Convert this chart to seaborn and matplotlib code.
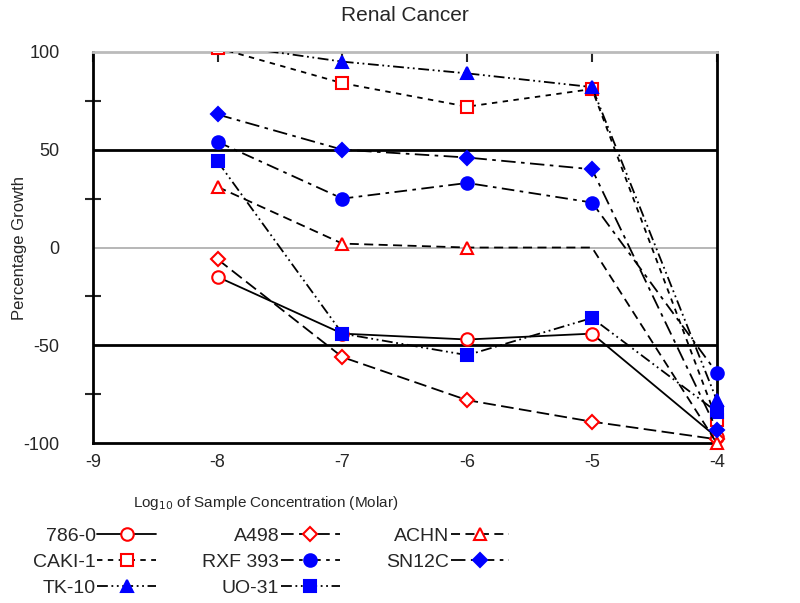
import pandas as pd
import matplotlib
matplotlib.use("Agg")
import matplotlib.pyplot as plt
from matplotlib.patches import Rectangle
import seaborn as sns

# concentrations (log10 molar)
conc = [-8, -7, -6, -5, -4]

# percentage growth per cell line
cell_lines = ["786-0", "CAKI-1", "TK-10", "A498", "RXF 393", "UO-31", "ACHN", "SN12C"]
g_786 = [-15, -44, -47, -44, -97]
g_caki = [102, 84, 72, 81, -88]
g_tk10 = [104, 95, 89, 82, -78]
g_a498 = [-6, -56, -78, -89, -98]
g_rxf = [54, 25, 33, 23, -64]
g_uo31 = [44, -44, -55, -36, -84]
g_achn = [31, 2, 0, 0, -100]
g_sn12c = [68, 50, 46, 40, -93]

values = [g_786, g_caki, g_tk10, g_a498, g_rxf, g_uo31, g_achn, g_sn12c]

rows = []
for name, vals in zip(cell_lines, values):
    for c, v in zip(conc, vals):
        rows.append({"cell": name, "conc": c, "growth": v})
df = pd.DataFrame(rows)

red, blue = "#ff0000", "#0000ff"
styles = {
    "786-0":   dict(marker="o", mfc="white", mec=red, ls="-"),
    "CAKI-1":  dict(marker="s", mfc="white", mec=red, ls=(0, (3, 3))),
    "TK-10":   dict(marker="^", mfc=blue, mec=blue, ls=(0, (6, 2, 1, 2, 1, 2))),
    "A498":    dict(marker="D", mfc="white", mec=red, ls=(0, (7, 3))),
    "RXF 393": dict(marker="o", mfc=blue, mec=blue, ls=(0, (7, 3, 2, 3))),
    "UO-31":   dict(marker="s", mfc=blue, mec=blue, ls=(0, (6, 2, 1, 2, 1, 2))),
    "ACHN":    dict(marker="^", mfc="white", mec=red, ls=(0, (5, 3))),
    "SN12C":   dict(marker="D", mfc=blue, mec=blue, ls=(0, (8, 3, 2, 3))),
}

sns.set_style("white")
plt.rcParams["font.family"] = ["Liberation Sans", "DejaVu Sans"]
plt.rcParams["axes.unicode_minus"] = False

fig = plt.figure(figsize=(8, 6.03), dpi=100)
ax = fig.add_axes([0.116, 0.265, 0.78, 0.649])

for name in cell_lines:
    st = styles[name]
    ms = 9 if st["marker"] != "D" else 7
    kw = {}
    if name == "ACHN":
        kw["markevery"] = [0, 1, 2, 4]
    sns.lineplot(data=df[df["cell"] == name], x="conc", y="growth", ax=ax,
                 color="black", linestyle=st["ls"], linewidth=1.3,
                 marker=st["marker"], markersize=ms, markerfacecolor=st["mfc"],
                 markeredgecolor=st["mec"], markeredgewidth=1.5,
                 label=name, legend=False, zorder=3, **kw)

# clip only above the top of the axes so the end markers stay whole
clip = Rectangle((-0.05, -0.06), 1.1, 1.06, transform=ax.transAxes,
                 facecolor="none", edgecolor="none")
for ln in ax.get_lines():
    ln.set_clip_path(clip)

ax.axhline(50, color="black", linewidth=2, zorder=0)
ax.axhline(-50, color="black", linewidth=2, zorder=0)
ax.axhline(0, color="#aaaaaa", linewidth=1.2, zorder=0)

ax.set_xlim(-9, -4)
ax.set_ylim(-100, 100)
ax.set_xticks([-9, -8, -7, -6, -5, -4])
ax.set_yticks([-100, -50, 0, 50, 100])
ax.set_yticks([-75, -25, 25, 75], minor=True)
ax.tick_params(axis="both", which="major", labelsize=13, direction="in",
               length=7, width=1.5, top=True, left=False)
ax.tick_params(axis="y", which="major", pad=24)
ax.tick_params(axis="y", which="minor", direction="inout", length=12, width=1.5, left=True)
ax.tick_params(axis="x", pad=8)

for side in ["left", "bottom", "right"]:
    ax.spines[side].set_color("black")
    ax.spines[side].set_linewidth(2)
ax.spines["top"].set_color("#bbbbbb")
ax.spines["top"].set_linewidth(2)

ax.set_title("Renal Cancer", fontsize=15, pad=22)
ax.set_xlabel("Log$_{10}$ of Sample Concentration (Molar)", fontsize=11)
ax.xaxis.set_label_coords(0.277, -0.13)
ax.set_ylabel("Percentage Growth", fontsize=12)
ax.yaxis.set_label_coords(-0.105, 0.5)

handles, labels = ax.get_legend_handles_labels()
fig.legend(handles, labels, loc="upper left", bbox_to_anchor=(0.041, 0.125), ncol=3,
           frameon=False, markerfirst=False, fontsize=14, handlelength=3.0,
           columnspacing=2.4, labelspacing=0.42, handletextpad=0.1,
           borderpad=0, borderaxespad=0)

fig.savefig("out.png", dpi=100)
